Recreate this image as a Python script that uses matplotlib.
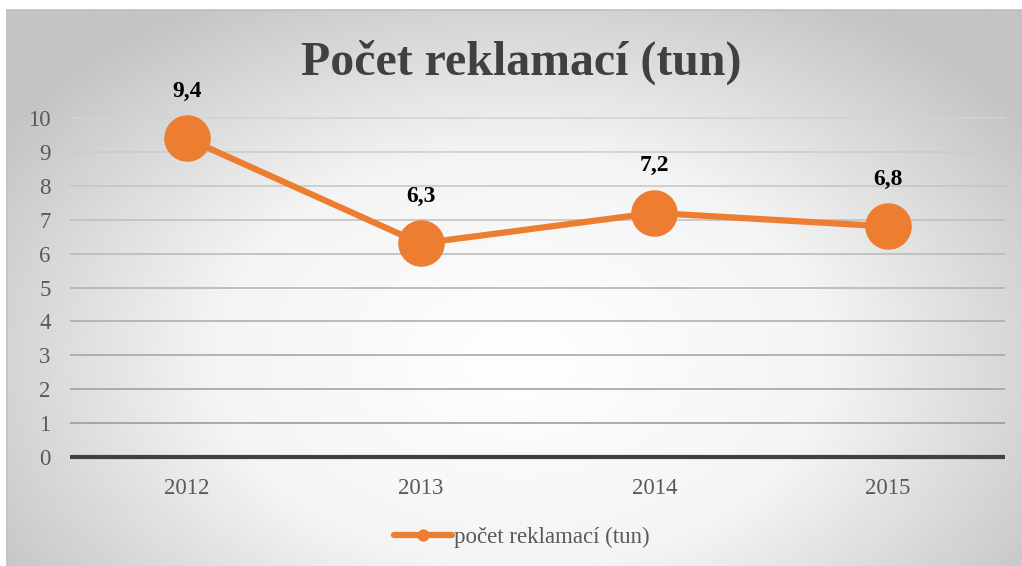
import numpy as np
import matplotlib
matplotlib.use("Agg")
import matplotlib.pyplot as plt
from matplotlib.colors import LinearSegmentedColormap, to_rgb

categories = ["2012", "2013", "2014", "2015"]
values = [9.4, 6.3, 7.2, 6.8]
value_labels = ["9,4", "6,3", "7,2", "6,8"]
series_name = "počet reklamací (tun)"
title = "Počet reklamací (tun)"
yticks = list(range(0, 11))

W, H = 1022, 566
fig = plt.figure(figsize=(W / 100, H / 100), dpi=100)
fig.patch.set_facecolor("white")

serif = ["Liberation Serif", "DejaVu Serif"]
orange = "#ED7D31"

# background with radial gradient
bx0, by0 = 7 / W, 0.0
bw, bh = 1 - bx0, 1 - 10 / H
bg = fig.add_axes([bx0, by0, bw, bh], zorder=0)
nx, ny = 400, 240
xs = np.linspace(7, W, nx)
ys = np.linspace(10, H, ny)
X, Y = np.meshgrid(xs, ys)
cx, cy = 520, 360
r = np.sqrt(((X - cx) / 620) ** 2 + ((Y - cy) / 420) ** 2)
r = np.clip(r, 0, 1)
cmap = LinearSegmentedColormap.from_list("bg", ["#ffffff", "#f4f4f4", "#c4c4c4"])
bg.imshow(r, cmap=cmap, vmin=0, vmax=1, aspect="auto", extent=[0, 1, 0, 1],
          origin="upper", interpolation="bilinear")
bg.set_xlim(0, 1)
bg.set_ylim(0, 1)
bg.set_xticks([])
bg.set_yticks([])
for s in ["right", "bottom"]:
    bg.spines[s].set_visible(False)
for s in ["top", "left"]:
    bg.spines[s].set_color("#bfbfbf")
    bg.spines[s].set_linewidth(1.2)

ax = fig.add_axes([70 / W, 109 / H, 935 / W, 339 / H], zorder=1)
ax.patch.set_alpha(0)
x = np.arange(len(categories))
ax.set_xlim(-0.5, len(categories) - 0.5)
ax.set_ylim(0, 10)

# gridlines, shaded lighter toward the top
c_top = np.array(to_rgb("#d2d2d2"))
c_bot = np.array(to_rgb("#8e8e8e"))
for t in yticks[1:]:
    f = t / 10
    ax.axhline(t, color=tuple(c_bot * (1 - f) + c_top * f), lw=1.1, zorder=1,
               clip_on=False, solid_capstyle="butt")
ax.axhline(0, color="#404040", lw=3.0, zorder=2, clip_on=False, solid_capstyle="butt")

line, = ax.plot(x, values, color=orange, lw=4.5, marker="o", markersize=32.5,
                solid_capstyle="round", zorder=3, label=series_name, clip_on=False)

for xi, v, lab in zip(x, values, value_labels):
    ax.annotate(lab, (xi, v), xytext=(0, 34), textcoords="offset points",
                ha="center", va="center", fontsize=17, fontweight="bold",
                family=serif, color="black", zorder=4)

ax.set_xticks(x)
ax.set_xticklabels(categories)
ax.set_yticks(yticks)
ax.tick_params(axis="both", length=0, labelsize=16.5, labelcolor="#595959")
ax.tick_params(axis="y", pad=14)
ax.tick_params(axis="x", pad=15)
for lab in ax.get_xticklabels() + ax.get_yticklabels():
    lab.set_family(serif)
for s in ax.spines.values():
    s.set_visible(False)

fig.text(521 / W, 1 - 62 / H, title, ha="center", va="center", fontsize=34.5,
         fontweight="bold", family=serif, color="#404040")

leg = fig.legend(handles=[line], loc="center", bbox_to_anchor=(522 / W, 1 - 537 / H),
                 frameon=False, markerscale=0.24, handlelength=2.5, handletextpad=0.1,
                 prop={"family": serif, "size": 16.5})
for t in leg.get_texts():
    t.set_color("#595959")

fig.savefig("out.png", dpi=100)
